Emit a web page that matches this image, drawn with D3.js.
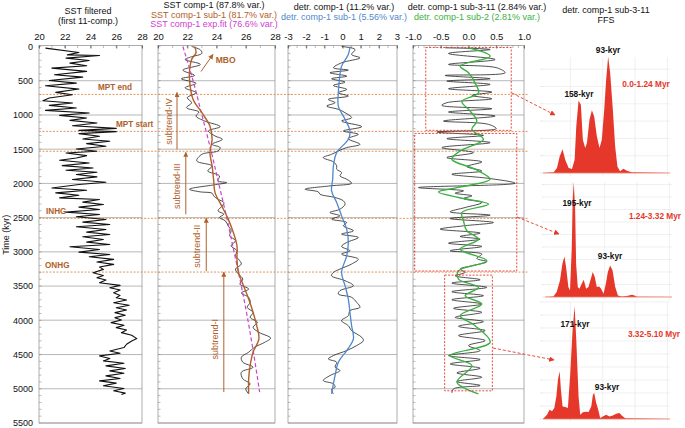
<!DOCTYPE html>
<html><head><meta charset="utf-8">
<script src="https://cdn.jsdelivr.net/npm/d3@7"></script>
<style>body{margin:0;background:#fff}svg{display:block}text{font-family:"Liberation Sans",Arial,sans-serif}</style>
</head><body><svg id="c" width="685" height="428"></svg>
<script>
// ---------- DATA ----------
const timeTicks = [0,500,1000,1500,2000,2500,3000,3500,4000,4500,5000,5500];
const sstTicks = [20,22,24,26,28];
const detrTicks = [-3,-2,-1,0,1,2,3];
const sub311Ticks = [-1.0,-0.5,0.0,0.5,1.0];

// SST filtered (first 11 comp.) [time kyr, SST]
const sstFiltered = [[24,20.5],[87,23.1],[122,22.2],[131,24.7],[170,22.1],[204,23.9],[243,22.4],[282,23.7],[316,21.0],[364,23.7],[413,21.2],[447,23.4],[496,20.8],[535,22.9],[573,20.5],[622,23.1],[670,21.3],[705,22.6],[753,20.8],[792,20.3],[826,22.6],[860,20.8],[899,22.9],[933,20.5],[972,23.9],[1006,21.6],[1045,23.7],[1079,22.4],[1118,24.5],[1157,22.6],[1196,26.0],[1225,23.1],[1244,26.0],[1273,23.1],[1312,24.7],[1351,23.4],[1385,25.5],[1419,23.7],[1458,25.2],[1497,22.9],[1531,24.5],[1555,22.1],[1594,23.7],[1628,22.9],[1662,21.6],[1701,23.9],[1740,21.8],[1774,24.2],[1808,22.1],[1837,24.5],[1871,22.9],[1905,24.5],[1944,22.6],[1983,25.2],[2017,23.1],[2066,21.0],[2100,23.7],[2138,21.3],[2172,23.1],[2211,21.6],[2236,24.7],[2274,23.4],[2309,25.0],[2347,23.1],[2381,24.7],[2420,22.1],[2454,24.7],[2488,22.9],[2527,25.2],[2566,23.4],[2600,25.5],[2634,22.9],[2673,25.2],[2712,23.7],[2746,25.5],[2780,23.4],[2819,25.0],[2858,23.7],[2892,25.5],[2926,22.4],[2965,24.7],[3004,23.1],[3038,25.5],[3072,23.9],[3110,25.8],[3149,24.5],[3183,25.8],[3222,24.7],[3256,25.0],[3305,24.2],[3344,25.0],[3378,24.5],[3412,25.2],[3451,24.7],[3490,26.3],[3524,25.5],[3558,26.3],[3597,25.8],[3636,26.3],[3670,26.0],[3704,26.8],[3743,25.8],[3781,27.0],[3816,26.0],[3850,26.8],[3888,25.9],[3927,26.7],[3961,25.9],[3995,26.4],[4034,25.6],[4073,26.6],[4107,26.0],[4141,26.8],[4180,26.4],[4219,27.2],[4267,27.6],[4301,27.2],[4350,26.8],[4398,26.6],[4447,25.5],[4481,26.3],[4520,24.7],[4559,25.5],[4593,25.0],[4627,26.6],[4666,25.2],[4705,26.7],[4739,25.5],[4773,26.6],[4811,25.2],[4850,26.3],[4884,24.7],[4918,26.0],[4957,25.0],[4996,26.6],[5030,25.8],[5064,26.7],[5083,26.4]];

// SST comp-1
const sstComp1 = [[0,22.3],[50,22.9],[100,23.0],[150,22.3],[190,21.85],[262,22.9],[345,21.7],[423,22.5],[471,21.6],[539,22.6],[603,21.85],[675,22.6],[748,22.0],[821,22.3],[894,21.95],[957,22.8],[1016,22.6],[1089,23.2],[1171,24.25],[1234,23.45],[1307,23.9],[1356,24.4],[1429,23.7],[1477,24.25],[1526,24.1],[1575,23.0],[1672,22.65],[1745,23.7],[1818,23.4],[1890,24.2],[1963,24.1],[1988,24.7],[2022,23.8],[2085,22.15],[2124,22.9],[2143,23.7],[2182,23.8],[2231,24.1],[2280,24.5],[2328,24.4],[2400,24.1],[2450,24.5],[2498,24.2],[2547,24.6],[2620,24.8],[2692,25.0],[2765,24.9],[2838,25.3],[2911,25.0],[2984,25.4],[3057,25.3],[3106,25.5],[3178,25.7],[3251,25.3],[3324,25.5],[3397,25.8],[3470,25.6],[3543,26.2],[3601,25.7],[3664,26.2],[3737,26.3],[3810,26.1],[3883,26.5],[3956,26.3],[4029,26.8],[4102,26.5],[4175,26.9],[4260,27.7],[4321,27.3],[4393,26.6],[4466,26.2],[4539,25.7],[4612,25.8],[4685,26.5],[4758,25.7],[4855,25.8],[4928,26.3],[5001,26.0],[5074,26.2]];
// SST comp-1 sub-1
const sstSub1 = [[0,22.5],[90,22.6],[190,22.3],[384,22.15],[578,22.2],[773,22.4],[967,23.0],[1162,23.55],[1356,23.7],[1550,23.55],[1745,23.7],[1939,23.8],[2134,23.9],[2328,24.35],[2522,24.8],[2717,25.15],[2911,25.4],[3106,25.4],[3300,25.5],[3494,25.85],[3689,26.2],[3883,26.5],[4078,26.75],[4272,26.9],[4466,26.5],[4661,26.3],[4855,26.2],[5074,26.2]];
// SST comp-1 exp.fit
const sstExpFit = [[0,21.7],[500,22.4],[1000,23.0],[1500,23.6],[2000,24.15],[2500,24.7],[3000,25.2],[3500,25.7],[4000,26.15],[4500,26.55],[5050,26.95]];

// detr. comp-1
const detrComp1 = [[0,-0.05],[44,0.69],[117,0.5],[165,0.96],[238,-0.05],[311,-0.5],[345,0.32],[384,-0.69],[433,0.23],[471,-0.6],[520,0.14],[569,-0.5],[627,0.23],[675,-0.23],[724,0.32],[773,-0.78],[821,-0.41],[870,-0.87],[918,-0.23],[967,0.14],[1040,0.5],[1089,-0.05],[1171,1.06],[1234,0.05],[1283,0.87],[1346,0.32],[1429,0.96],[1477,0.23],[1526,-0.23],[1575,-0.6],[1623,-1.06],[1686,-0.5],[1745,-0.32],[1793,-0.32],[1842,-0.05],[1890,-0.14],[1939,0.23],[1997,0.5],[2036,-0.69],[2085,-2.06],[2124,-1.33],[2158,-1.24],[2206,-0.41],[2255,0.05],[2304,0.14],[2377,-0.14],[2425,-0.69],[2474,-0.14],[2522,-0.6],[2571,0.23],[2620,0.05],[2692,0.6],[2741,-0.05],[2790,0.87],[2863,0.23],[2921,-0.05],[2984,0.41],[3033,-0.05],[3106,0.87],[3178,0.5],[3251,-0.14],[3300,-0.5],[3349,-0.6],[3421,0.14],[3494,0.6],[3567,-0.14],[3616,-0.23],[3664,0.5],[3737,0.78],[3810,0.96],[3859,0.41],[3932,0.32],[4005,-0.05],[4078,0.32],[4150,0.5],[4248,1.06],[4296,1.15],[4369,0.78],[4442,0.23],[4515,-0.5],[4564,-0.78],[4612,-0.32],[4685,-0.41],[4734,-0.14],[4807,-0.69],[4880,-1.06],[4928,-0.5],[4977,-0.41],[5011,-0.6],[5074,-0.5]];
// detr. comp-1 sub-1
const detrSub1 = [[0,0.41],[117,0.32],[287,-0.05],[481,-0.17],[675,-0.23],[870,-0.23],[1064,0.14],[1234,0.41],[1356,0.32],[1550,-0.32],[1745,-0.5],[1939,-0.54],[2109,-0.6],[2280,-0.32],[2474,-0.05],[2668,0.23],[2863,0.32],[3057,0.23],[3300,-0.05],[3494,0.14],[3689,0.32],[3883,0.41],[4078,0.5],[4272,0.6],[4442,0.23],[4612,-0.23],[4807,-0.41],[5074,-0.6]];

// detr. comp-1 sub-3-11
const detrSub311 = [[19,-0.42],[44,0.39],[102,-0.36],[190,0.48],[262,-0.36],[311,0.51],[384,0.66],[423,-0.42],[471,0.39],[505,-0.39],[554,0.39],[617,-0.36],[666,0.42],[715,0.06],[763,0.42],[821,-0.39],[860,-0.48],[909,0.42],[957,-0.36],[1016,0.48],[1089,-0.45],[1137,0.36],[1200,0.5],[1249,-0.57],[1298,0.27],[1346,-0.39],[1404,0.39],[1477,-0.48],[1550,0.09],[1623,-0.39],[1686,0.24],[1754,-0.03],[1818,0.24],[1866,-0.3],[1929,0.39],[1997,0.84],[2061,-0.9],[2109,-0.09],[2143,-0.24],[2182,0.06],[2221,-0.09],[2280,0.24],[2352,-0.06],[2415,-0.33],[2464,0.39],[2513,-0.33],[2571,0.45],[2620,-0.09],[2668,-0.51],[2726,0.21],[2775,-0.15],[2814,0.21],[2873,-0.36],[2921,0.24],[2984,-0.33],[3033,0.24],[3096,0.15],[3144,0.33],[3203,0.06],[3251,-0.15],[3300,-0.06],[3349,-0.24],[3407,0.21],[3456,-0.3],[3519,0.33],[3582,-0.3],[3640,0.27],[3699,-0.3],[3762,0.24],[3825,-0.27],[3883,0.24],[3956,-0.24],[4019,0.27],[4087,-0.18],[4150,0.3],[4223,-0.18],[4296,0.3],[4369,0.0],[4442,0.21],[4515,-0.36],[4573,0.21],[4637,-0.33],[4700,0.21],[4768,-0.21],[4831,0.24],[4894,-0.21],[4952,0.21],[5001,-0.27],[5060,-0.3]];
// detr. comp-1 sub-2
const detrSub2 = [[19,0.0],[141,0.39],[287,-0.15],[384,0.0],[535,0.12],[680,0.18],[802,-0.12],[943,0.03],[1089,0.15],[1210,0.06],[1356,0.27],[1526,-0.15],[1647,-0.3],[1793,0.12],[1939,0.39],[2061,-0.21],[2124,-0.54],[2206,-0.18],[2304,0.36],[2425,-0.12],[2547,-0.09],[2692,-0.03],[2814,0.18],[2960,-0.15],[3130,0.33],[3276,-0.18],[3397,-0.18],[3519,0.18],[3640,-0.06],[3762,0.24],[3932,-0.15],[4078,0.12],[4321,0.39],[4515,-0.33],[4661,0.06],[4904,-0.21],[5074,0.18]];

// event lines (kyr)
const eventTimes = [700,1240,1530,2510,3295];
const eventLabels = [["MPT end",700],["MPT start",1240],["INHG",2510],["ONHG",3295]];

// boxes in sub-3-11 panel: [t0,t1,v0,v1]
const ffsBoxes = [[15,1225,-0.77,0.77],[1270,3280,-0.97,0.87],[3340,5030,-0.43,0.43]];

// FFS spectra [relative frequency position, amplitude]
const ffs1 = [[0,0],[8.4,0.04],[11,0.29],[13.1,0.96],[15.4,1.38],[17.5,0.77],[20.2,0.29],[22.8,0.23],[24.9,0.77],[26.2,2.69],[28,4.19],[29.8,3.94],[31.4,1.92],[33.2,1.44],[34.6,1.73],[36.6,3.08],[38.5,3.62],[40.3,3.27],[42.4,2.12],[44.5,1.44],[46.3,1.92],[48.2,3.65],[49.7,5.38],[51.3,6.73],[52.9,5.77],[55,3.65],[56.8,1.54],[58.6,0.38],[60.7,0.1],[63.4,0.25],[66,0.13],[69.9,0.04],[100,0]];
const ffs2 = [[0,0],[6.6,0.05],[9.2,0.4],[11.8,1.33],[13.7,2.67],[15.3,3.25],[16.6,2.4],[18.4,0.8],[19.7,0.53],[21.1,4.0],[21.8,7.73],[22.6,9.2],[23.7,7.2],[24.5,2.67],[25.8,0.8],[27.1,0.67],[28.9,1.07],[30.5,1.39],[32.4,0.67],[34.2,0.8],[36.1,1.47],[37.6,2.0],[39.2,1.6],[40.8,0.8],[42.6,0.85],[44.2,0.67],[46.1,0.27],[47.9,1.07],[49.5,2.0],[51.3,2.53],[53.2,2.13],[55.3,0.8],[57.4,0.13],[60.5,0.05],[64.5,0.08],[68.4,0.19],[70.5,0.13],[72.4,0.03],[100,0]];
const ffs3 = [[0,0],[3.1,0.33],[5.2,0.72],[7.1,0.59],[8.9,0.85],[10.5,1.74],[11.8,3.03],[13.1,3.67],[14.1,2.26],[15.4,0.97],[17.5,0.92],[19.6,0.85],[21.5,3.54],[23.3,6.87],[24.9,8.67],[26.2,6.1],[28,1.74],[29.3,0.33],[31.4,0.51],[33.2,0.56],[35.9,0.54],[38,0.97],[39.3,1.87],[40.3,2.0],[41.9,1.23],[43.5,0.72],[45,0.08],[47.1,0.2],[49.7,0.33],[52.4,0.2],[55,0.26],[57.6,0.41],[60.2,0.46],[62,0.26],[64.7,0.05],[100,0]];
// peak labels [text, u, v] (label anchor in spectrum units)
const ffsPeaks = [[["93-kyr",51.2,6.94],["158-kyr",28.3,4.39]],[["195-kyr",25.2,7.28],["93-kyr",51.2,3.04]],[["171-kyr",25.2,7.08],["93-kyr",50.4,2.23]]];
const ffsRanges = ["0.0-1.24 Myr","1.24-3.32 Myr","3.32-5.10 Myr"];

// ---------- DRAWING ----------
const svg = d3.select('#c');
const y = d3.scaleLinear().domain([0,5500]).range([46.5,423]);
const brown = "#b0602a", orange = "#e08a4a", magenta = "#d040d0", blue = "#4f88cc", green = "#3cb043", red = "#e5382a";

const defs = svg.append("defs");
function marker(id, col, size){
  defs.append("marker").attr("id",id).attr("viewBox","0 0 10 10").attr("refX",9).attr("refY",5)
    .attr("markerWidth",size).attr("markerHeight",size).attr("orient","auto")
    .append("path").attr("d","M0,0 L10,5 L0,10 z").attr("fill",col);
}
marker("arrB", brown, 5);
marker("arrR", red, 6);

const panels = [
  {x0:39,x1:142,dom:[20,28],ticks:sstTicks,minor:d3.range(20,28.01,1),fmt:d=>String(d)},
  {x0:158,x1:275,dom:[20,28],ticks:sstTicks,minor:d3.range(20,28.01,1),fmt:d=>String(d)},
  {x0:288,x1:397,dom:[-3,3],ticks:detrTicks,minor:d3.range(-3,3.01,0.5),fmt:d=>String(d)},
  {x0:413,x1:524,dom:[-1,1],ticks:sub311Ticks,minor:d3.range(-1,1.001,0.1),fmt:d=>d.toFixed(1)}
];
panels.forEach(p=>{ p.x = d3.scaleLinear().domain(p.dom).range([p.x0,p.x1]); });

// grid + frames
panels.forEach(p=>{
  const g = svg.append("g");
  timeTicks.slice(1,11).forEach(t=>{
    const light = (t===1000||t===4000);
    g.append("line").attr("x1",p.x0).attr("x2",p.x1).attr("y1",y(t)).attr("y2",y(t))
      .attr("stroke", light?"#cfcfcf":"#9a9a9a").attr("stroke-width", light?1.6:0.7);
  });
  d3.range(0,5501,100).forEach(t=>{
    g.append("line").attr("x1",p.x0).attr("x2",p.x0+2.5).attr("y1",y(t)).attr("y2",y(t))
      .attr("stroke","#777").attr("stroke-width",0.5);
  });
  g.append("line").attr("x1",p.x0).attr("x2",p.x1).attr("y1",y(5500)).attr("y2",y(5500)).attr("stroke","#cfcfcf").attr("stroke-width",1.6);
  g.append("rect").attr("x",p.x0).attr("y",y(0)-1).attr("width",p.x1-p.x0).attr("height",y(5500)-y(0)+1)
    .attr("fill","none").attr("stroke","#999").attr("stroke-width",0.8);
  const ax = d3.axisTop(p.x).tickValues(p.ticks).tickFormat(p.fmt).tickSizeInner(-3).tickSizeOuter(0).tickPadding(6);
  const ga = svg.append("g").attr("transform",`translate(0,${y(0)-1})`).call(ax);
  ga.select(".domain").remove();
  ga.selectAll("line").attr("stroke","#666");
  ga.selectAll("text").attr("font-family","'Liberation Serif',serif").attr("font-size",9.5).attr("fill","#111");
  p.minor.forEach(v=>{
    svg.append("line").attr("x1",p.x(v)).attr("x2",p.x(v)).attr("y1",y(0)-1).attr("y2",y(0)+1.5).attr("stroke","#777").attr("stroke-width",0.5);
  });
});

// left axis
const ay = d3.axisLeft(y).tickValues(timeTicks).tickFormat(d3.format("d")).tickSizeInner(0).tickSizeOuter(0).tickPadding(6);
const gy = svg.append("g").attr("transform",`translate(${panels[0].x0},0)`).call(ay);
gy.select(".domain").remove();
gy.selectAll("text").attr("font-family","'Liberation Serif',serif").attr("font-size",9).attr("fill","#111");
svg.append("text").attr("transform",`translate(9,${y(2750)}) rotate(-90)`).attr("text-anchor","middle")
  .attr("font-size",9).attr("fill","#222").text("Time (kyr)");

// event lines
eventTimes.forEach(t=>{
  svg.append("line").attr("x1",panels[0].x0).attr("x2",529).attr("y1",y(t)).attr("y2",y(t))
    .attr("stroke",orange).attr("stroke-width",0.9).attr("stroke-dasharray","2,1.5");
});
const evPos = {"MPT end":[98,-4],"MPT start":[116,-4],"INHG":[46,-4],"ONHG":[45,-4]};
eventLabels.forEach(([lab,t])=>{
  svg.append("text").attr("x",evPos[lab][0]).attr("y",y(t)+evPos[lab][1]).attr("font-size",8.2)
    .attr("font-weight","bold").attr("fill",brown).text(lab);
});

// lines
function drawLine(p, data, col, w, curve, dash){
  const l = d3.line().x(d=>p.x(d[1])).y(d=>y(d[0])).curve(curve);
  const path = svg.append("path").datum(data).attr("d",l).attr("fill","none").attr("stroke",col).attr("stroke-width",w).attr("stroke-linejoin","round");
  if(dash) path.attr("stroke-dasharray",dash);
}
drawLine(panels[0], sstFiltered, "#111", 1.1, d3.curveLinear);
drawLine(panels[1], sstComp1, "#222", 0.8, d3.curveCatmullRom);
drawLine(panels[1], sstExpFit, magenta, 1.2, d3.curveCatmullRom, "4,2.5");
drawLine(panels[1], sstSub1, brown, 1.4, d3.curveCatmullRom);
drawLine(panels[2], detrComp1, "#222", 0.8, d3.curveCatmullRom);
drawLine(panels[2], detrSub1, blue, 1.3, d3.curveCatmullRom);
drawLine(panels[3], detrSub311, "#222", 0.8, d3.curveCatmullRom);
drawLine(panels[3], detrSub2, green, 1.4, d3.curveCatmullRom);

// subtrend annotations in panel B [label, T arrow, t start, t end, T text, t text]
const subtrends = [["subtrend-IV",21.3,1503,671,20.75,1094],["subtrend-III",21.9,2451,1546,21.3,2042],["subtrend-II",23.3,3282,2509,22.7,2917],["subtrend-I",24.5,5047,3297,23.9,4275]];
const pB = panels[1];
subtrends.forEach(s=>{
  svg.append("line").attr("x1",pB.x(s[1])).attr("x2",pB.x(s[1])).attr("y1",y(s[2])).attr("y2",y(s[3]))
    .attr("stroke",brown).attr("stroke-width",1).attr("marker-end","url(#arrB)");
  svg.append("text").attr("transform",`translate(${pB.x(s[4])},${y(s[5])}) rotate(-90)`).attr("text-anchor","middle")
    .attr("dominant-baseline","central").attr("font-size",9).attr("fill",brown).text(s[0]);
});
svg.append("line").attr("x1",pB.x(22.94)).attr("y1",y(365)).attr("x2",pB.x(23.76)).attr("y2",y(117))
  .attr("stroke",brown).attr("stroke-width",1).attr("marker-end","url(#arrB)");
svg.append("text").attr("x",pB.x(23.95)).attr("y",y(190)+3).attr("font-size",8.5).attr("font-weight","bold").attr("fill",brown).text("MBO");

// boxes
const pD = panels[3];
ffsBoxes.forEach(b=>{
  svg.append("rect").attr("x",pD.x(b[2])).attr("y",y(b[0])).attr("width",pD.x(b[3])-pD.x(b[2])).attr("height",y(b[1])-y(b[0]))
    .attr("fill","none").attr("stroke",red).attr("stroke-width",0.9).attr("stroke-dasharray","2,1.5");
});

// FFS panels
const ffsCfg = [
  {data:ffs1, x0:543, x1:670, base:173, unit:17.3, grid:6, top:57, conn:[[512,93],[555,115]], rl:[646,87]},
  {data:ffs2, x0:545, x1:672, base:297, unit:12.5, grid:9, top:182, conn:[[517,217],[559,234]], rl:[655,219]},
  {data:ffs3, x0:543, x1:670, base:419, unit:13.0, grid:9, top:302, conn:[[493,348],[554,360]], rl:[654,337]}
];
ffsCfg.forEach((c,i)=>{
  const fx = d3.scaleLinear().domain([0,100]).range([c.x0,c.x1]);
  const fy = d3.scaleLinear().domain([0,1]).range([c.base,c.base-c.unit]);
  const g = svg.append("g");
  d3.range(0,c.grid+1).forEach(k=>{
    g.append("line").attr("x1",c.x0).attr("x2",c.x1).attr("y1",fy(k)).attr("y2",fy(k)).attr("stroke","#e6e6e6").attr("stroke-width",0.6);
    g.append("line").attr("x1",c.x0-3).attr("x2",c.x0).attr("y1",fy(k)).attr("y2",fy(k)).attr("stroke","#ccc").attr("stroke-width",0.5);
  });
  [21.5,47,72.5,98].forEach(u=>{
    g.append("line").attr("x1",fx(u)).attr("x2",fx(u)).attr("y1",c.top).attr("y2",c.base+3).attr("stroke","#e6e6e6").attr("stroke-width",0.6);
  });
  const area = d3.area().x(d=>fx(d[0])).y0(fy(0)).y1(d=>fy(d[1]));
  g.append("path").datum(c.data).attr("d",area).attr("fill",red);
  g.append("line").attr("x1",c.x0).attr("x2",c.x1).attr("y1",c.base).attr("y2",c.base).attr("stroke","#f08070").attr("stroke-width",0.8);
  ffsPeaks[i].forEach(pk=>{
    svg.append("text").attr("x",fx(pk[1])).attr("y",fy(pk[2])).attr("text-anchor","middle")
      .attr("font-size",8.3).attr("font-weight","bold").attr("fill","#111").text(pk[0]);
  });
  svg.append("text").attr("x",c.rl[0]).attr("y",c.rl[1]).attr("text-anchor","middle").attr("font-size",8.3)
    .attr("font-weight","bold").attr("fill",red).text(ffsRanges[i]);
  svg.append("line").attr("x1",c.conn[0][0]).attr("y1",c.conn[0][1]).attr("x2",c.conn[1][0]).attr("y2",c.conn[1][1])
    .attr("stroke",red).attr("stroke-width",0.9).attr("stroke-dasharray","3,2").attr("marker-end","url(#arrR)");
});

// headers
const hdr = [
  [88,14,"SST filtered","#111"],[88,24,"(first 11-comp.)","#111"],
  [214,8,"SST comp-1 (87.8% var.)","#111"],[214,17.5,"SST comp-1 sub-1 (81.7% var.)",brown],[214,27,"SST comp-1 exp.fit (76.6% var.)",magenta],
  [344,10,"detr. comp-1 (11.2% var.)","#111"],[344,20,"detr. comp-1 sub-1 (5.56% var.)",blue],
  [477,10,"detr. comp-1 sub-3-11 (2.84% var.)","#111"],[477,20,"detr. comp-1 sub-2 (2.81% var.)",green],
  [606,13,"detr. comp-1 sub-3-11","#111"],[606,23,"FFS","#111"]
];
hdr.forEach(h=>{
  svg.append("text").attr("x",h[0]).attr("y",h[1]).attr("text-anchor","middle").attr("font-size",9).attr("fill",h[3]).text(h[2]);
});
</script></body></html>
